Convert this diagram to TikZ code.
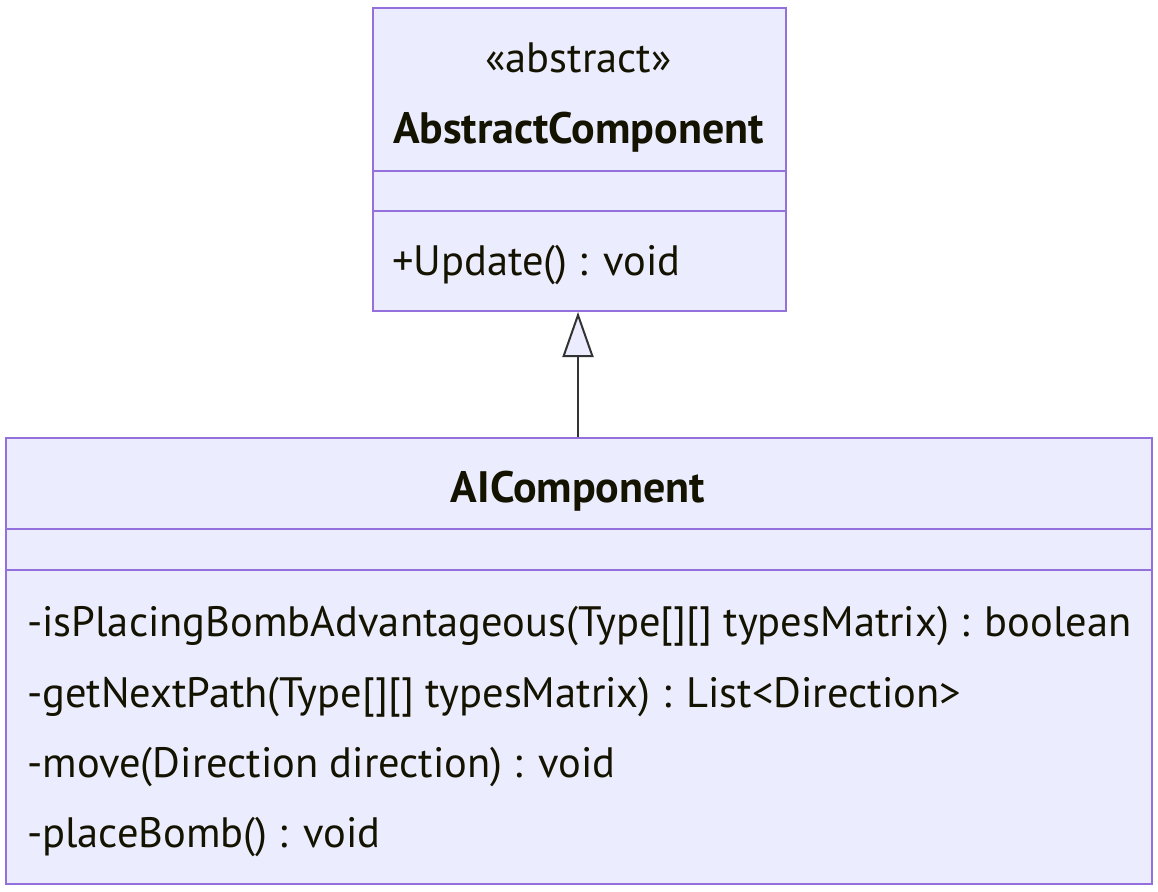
\documentclass[tikz,border=0pt]{standalone}
\usepackage{fontspec}
\setmainfont{PT Sans}
\usetikzlibrary{arrows.meta}
\definecolor{mfill}{HTML}{ECECFF}
\definecolor{mstroke}{HTML}{9370DB}
\definecolor{mtext}{HTML}{131300}
\definecolor{mline}{HTML}{333333}
\begin{document}
\begin{tikzpicture}[x=1pt,y=-1pt,
  classbox/.style={draw=mstroke,fill=mfill,line width=2pt,inner sep=0pt,anchor=north west},
  divider/.style={draw=mstroke,line width=2pt},
  txt/.style={text=mtext,inner sep=0pt,font=\fontsize{42.5}{48}\selectfont},
  title/.style={txt,anchor=base,font=\fontsize{44}{50}\selectfont\bfseries},
  member/.style={txt,anchor=base west},
  inherit/.style={draw=mline,line width=2pt,-{Triangle[open,length=45pt,width=31pt,fill=mfill]}}]
\useasboundingbox (0,0) rectangle (1158,891);
% top class
\node[classbox,minimum width=413pt,minimum height=303pt] (top) at (372,7) {};
\draw[divider] (372,171) -- (785,171);
\draw[divider] (372,211) -- (785,211);
\node[txt,anchor=base] (stereo) at (578.5,72) {«abstract»};
\node[title] (topname) at (578.5,143) {AbstractComponent};
\node[member] (upd) at (392,275) {+Update() : void};
% bottom class
\node[classbox,minimum width=1146pt,minimum height=446pt] (bot) at (5,437) {};
\draw[divider] (5,529) -- (1151,529);
\draw[divider] (5,570) -- (1151,570);
\node[title] (botname) at (578,502) {AIComponent};
\node[member] (m1) at (27,636) {-isPlacingBombAdvantageous(Type[][] typesMatrix) : boolean};
\node[member] (m2) at (27,707) {-getNextPath(Type[][] typesMatrix) : List<Direction>};
\node[member] (m3) at (27,777) {-move(Direction direction) : void};
\node[member] (m4) at (27,847) {-placeBomb() : void};
% inheritance
\draw[inherit] (bot.north -| 578,0) -- (top.south -| 578,0);
\end{tikzpicture}
\end{document}
